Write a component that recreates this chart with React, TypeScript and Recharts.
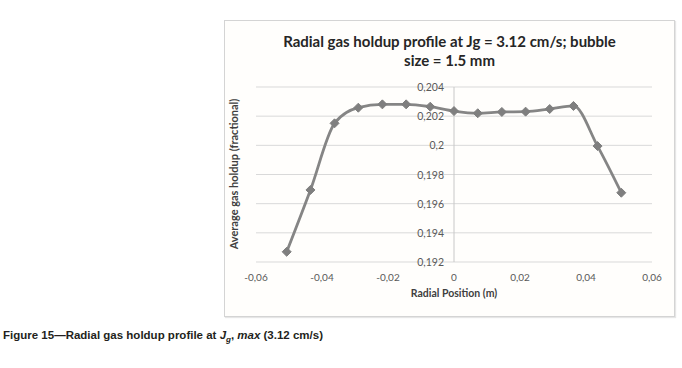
import React from "react";
import { LineChart, Line, XAxis, YAxis, CartesianGrid, ReferenceLine } from "recharts";

const positions = [-0.0507, -0.0435, -0.0362, -0.029, -0.0217, -0.0145, -0.0072, 0, 0.0072, 0.0145, 0.0217, 0.029, 0.0362, 0.0435, 0.0507];
const holdup = [0.1927, 0.19694, 0.20151, 0.20258, 0.20281, 0.20281, 0.20265, 0.20235, 0.2022, 0.20229, 0.20231, 0.20249, 0.2027, 0.19995, 0.19675];
const xTicks = [-0.06, -0.04, -0.02, 0, 0.02, 0.04, 0.06];
const yTicks = [0.192, 0.194, 0.196, 0.198, 0.2, 0.202, 0.204];

const data = positions.map((x, i) => ({ x, y: holdup[i] }));

const W = 682;
const H = 368;
const PLOT_LEFT = 256;
const PLOT_RIGHT = 652;
const PLOT_TOP = 87;
const PLOT_BOTTOM = 262;
const FONT = "Lato, 'Open Sans', sans-serif";

const fmt = (v: number) => String(v).replace(".", ",");

const Diamond = (props: any) => {
  const { cx, cy } = props;
  if (cx == null || cy == null) return null;
  const r = 4.5;
  return (
    <polygon
      points={`${cx},${cy - r} ${cx + r},${cy} ${cx},${cy + r} ${cx - r},${cy}`}
      fill="#7f7f7f"
      stroke="#7f7f7f"
      strokeWidth={1}
    />
  );
};

// y tick labels sit next to the axis crossing at x = 0 (middle of the plot)
const renderYTick = (props: any) => {
  const { y, payload } = props;
  const axisX = PLOT_LEFT + (PLOT_RIGHT - PLOT_LEFT) / 2;
  return (
    <text key={payload.value} x={axisX - 10} y={y} dy={4} textAnchor="end" fill="#595959" fontSize={10.5} fontFamily={FONT}>
      {fmt(payload.value)}
    </text>
  );
};

export default function App() {
  return (
    <div style={{ position: "absolute", left: 0, top: 0, width: W, height: H, background: "#fff", fontFamily: FONT }}>
      <div
        style={{
          position: "absolute",
          left: 224,
          top: 20,
          width: 449,
          height: 295,
          border: "1px solid #d4d4d4",
          boxShadow: "1px 1px 1px #e6e6e6",
          background: "#fffefc",
        }}
      />
      <div
        style={{
          position: "absolute",
          left: 224,
          top: 32,
          width: 451,
          textAlign: "center",
          fontWeight: 700,
          fontSize: 15,
          lineHeight: "19px",
          color: "#262626",
        }}
      >
        Radial gas holdup profile at Jg = 3.12 cm/s; bubble
        <br />
        size = 1.5 mm
      </div>
      <div style={{ position: "absolute", left: 0, top: 0 }}>
        <LineChart
          width={W}
          height={H}
          data={data}
          margin={{ top: PLOT_TOP, right: W - PLOT_RIGHT, bottom: H - PLOT_BOTTOM - 24, left: PLOT_LEFT - 1 }}
        >
          <CartesianGrid vertical={false} stroke="#d9d9d9" strokeWidth={1} />
          <XAxis
            dataKey="x"
            type="number"
            domain={[-0.06, 0.06]}
            ticks={xTicks}
            tickFormatter={fmt}
            axisLine={false}
            tickLine={false}
            height={24}
            tick={{ fill: "#595959", fontSize: 10, fontFamily: FONT }}
            tickMargin={6}
            interval={0}
          />
          <YAxis
            type="number"
            domain={[0.192, 0.204]}
            ticks={yTicks}
            width={1}
            axisLine={false}
            tickLine={false}
            tick={renderYTick}
            interval={0}
          />
          <ReferenceLine x={0} stroke="#c8c8c8" strokeWidth={1} />
          <Line
            type="monotone"
            dataKey="y"
            stroke="#858585"
            strokeWidth={2.8}
            dot={<Diamond />}
            activeDot={false}
            isAnimationActive={false}
          />
        </LineChart>
      </div>
      <div
        style={{
          position: "absolute",
          left: 404,
          top: 287,
          width: 100,
          textAlign: "center",
          fontWeight: 700,
          fontSize: 10.5,
          color: "#404040",
          whiteSpace: "nowrap",
        }}
      >
        Radial Position (m)
      </div>
      <div
        style={{
          position: "absolute",
          left: 233,
          top: 174,
          transform: "translate(-50%, -50%) rotate(-90deg)",
          fontWeight: 700,
          fontSize: 11,
          color: "#404040",
          whiteSpace: "nowrap",
        }}
      >
        Average gas holdup (fractional)
      </div>
      <div
        style={{
          position: "absolute",
          left: 3,
          top: 329,
          fontFamily: "'Liberation Sans Narrow', 'Liberation Sans', Arial, sans-serif",
          fontWeight: 700,
          fontSize: 11.5,
          color: "#231f20",
          whiteSpace: "nowrap",
        }}
      >
        Figure 15—Radial gas holdup profile at <i>J<sub style={{ fontSize: 8 }}>g</sub></i>, <i>max</i> (3.12 cm/s)
      </div>
    </div>
  );
}
